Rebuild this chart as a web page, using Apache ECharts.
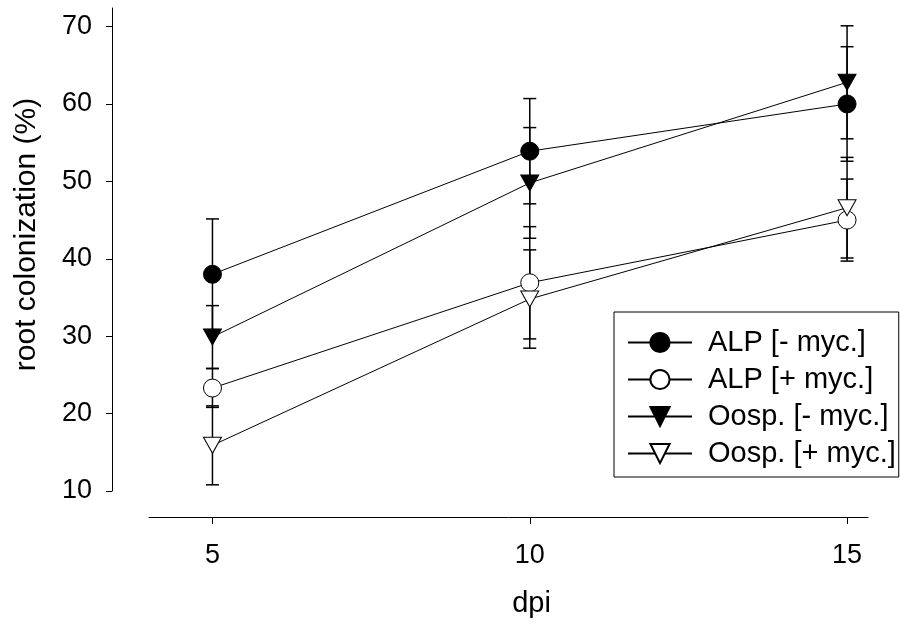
<!DOCTYPE html>
<html>
<head>
<meta charset="utf-8">
<script src="https://cdn.jsdelivr.net/npm/echarts@6/dist/echarts.min.js"></script>
<style>html,body{margin:0;padding:0;background:#fff}#c{width:900px;height:623px}</style>
</head>
<body>
<div id="c"></div>
<script>
const dpi = [5, 10, 15];
const xTicks = [5, 10, 15];
const yTicks = [10, 20, 30, 40, 50, 60, 70];
const seriesNames = ['ALP [- myc.]', 'ALP [+ myc.]', 'Oosp. [- myc.]', 'Oosp. [+ myc.]'];
const alpMinus = [38, 53.9, 60];
const alpMinusErr = [7.15, 6.8, 7.4];
const alpPlus = [23.3, 36.9, 45];
const alpPlusErr = [2.5, 7.25, 5.3];
const oospMinus = [29.9, 49.8, 62.8];
const oospMinusErr = [4.05, 7.15, 7.3];
const oospPlus = [15.9, 34.8, 46.6];
const oospPlusErr = [5.1, 6.35, 6.5];

const FONT = 'Liberation Sans';
const means = [alpMinus, alpPlus, oospMinus, oospPlus];
const errs = [alpMinusErr, alpPlusErr, oospMinusErr, oospPlusErr];
const symbols = ['circle', 'circle', 'triangle', 'triangle'];
const fills = ['#000', '#fff', '#000', '#fff'];

const errData = [];
means.forEach((m, s) => m.forEach((v, i) => errData.push([dpi[i], v, errs[s][i]])));

const series = [{
  type: 'custom',
  name: 'err',
  z: 1,
  silent: true,
  renderItem: function (params, api) {
    const x = api.value(0), m = api.value(1), e = api.value(2);
    const top = api.coord([x, m + e]);
    const bot = api.coord([x, m - e]);
    const hw = 6.5;
    const st = { stroke: '#000', lineWidth: 1.5 };
    return {
      type: 'group',
      children: [
        { type: 'line', shape: { x1: top[0], y1: top[1], x2: bot[0], y2: bot[1] }, style: st },
        { type: 'line', shape: { x1: top[0] - hw, y1: top[1], x2: top[0] + hw, y2: top[1] }, style: st },
        { type: 'line', shape: { x1: bot[0] - hw, y1: bot[1], x2: bot[0] + hw, y2: bot[1] }, style: st }
      ]
    };
  },
  encode: { x: 0, y: 1 },
  data: errData
}];

seriesNames.forEach((name, s) => {
  series.push({
    type: 'line',
    name: name,
    z: 3,
    data: dpi.map((x, i) => [x, means[s][i]]),
    symbol: symbols[s],
    symbolRotate: symbols[s] === 'triangle' ? 180 : 0,
    symbolSize: symbols[s] === 'triangle' ? [18, 16] : 18,
    showAllSymbol: true,
    lineStyle: { color: '#000', width: 1 },
    itemStyle: { color: fills[s], borderColor: '#000', borderWidth: 1, opacity: 1 },
    emphasis: { disabled: true },
    animation: false
  });
});

const chart = echarts.init(document.getElementById('c'), null, { renderer: 'canvas' });
chart.setOption({
  animation: false,
  backgroundColor: '#fff',
  textStyle: { fontFamily: FONT, color: '#000' },
  grid: { left: 149, right: 32, top: 8, bottom: 131, containLabel: false },
  xAxis: {
    type: 'value',
    min: 4, max: 15.33,
    offset: 26,
    name: 'dpi',
    nameLocation: 'middle',
    nameGap: 72,
    nameTextStyle: { fontFamily: FONT, fontSize: 29, color: '#000', padding: [0, 0, 0, 46] },
    axisLine: { show: true, lineStyle: { color: '#000', width: 1 } },
    axisTick: { show: true, inside: false, length: 7, customValues: xTicks, lineStyle: { color: '#000' } },
    axisLabel: { customValues: xTicks, fontFamily: FONT, fontSize: 27, color: '#000', margin: 25 },
    splitLine: { show: false }
  },
  yAxis: {
    type: 'value',
    min: 10, max: 72.4,
    offset: 37,
    name: 'root colonization (%)',
    nameLocation: 'middle',
    nameGap: 70,
    nameTextStyle: { fontFamily: FONT, fontSize: 30, color: '#000', padding: [0, 0, 0, 30] },
    axisLine: { show: true, lineStyle: { color: '#000', width: 1 } },
    axisTick: { show: true, inside: false, length: 6, customValues: yTicks, lineStyle: { color: '#000' } },
    axisLabel: { customValues: yTicks, fontFamily: FONT, fontSize: 27, color: '#000', margin: 20 },
    splitLine: { show: false }
  },
  legend: {
    data: seriesNames,
    orient: 'vertical',
    left: 614,
    top: 312,
    padding: [16, 3, 9, 13],
    itemWidth: 64,
    itemHeight: 24,
    itemGap: 8,
    borderColor: '#000',
    borderWidth: 1,
    backgroundColor: '#fff',
    selectedMode: false,
    textStyle: { fontFamily: FONT, fontSize: 29, color: '#000', lineHeight: 28, padding: [0, 0, 0, 11] }
  },
  series: series
});
</script>
</body>
</html>
